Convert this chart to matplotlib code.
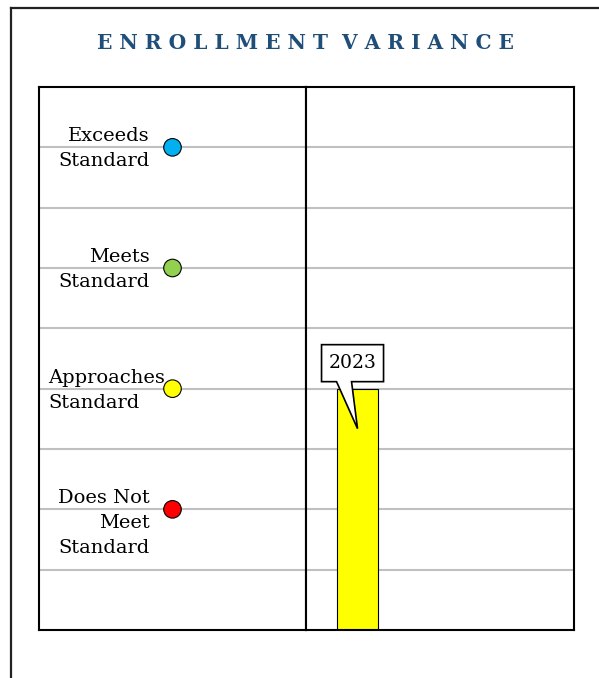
import numpy as np
import matplotlib.pyplot as plt
from matplotlib.patches import Polygon
from matplotlib.lines import Line2D
from matplotlib import transforms

# standards (levels on the y scale) and the single year bar
standards = ['Exceeds\nStandard', 'Meets\nStandard', 'Approaches\nStandard', 'Does Not\nMeet\nStandard']
levels = [8, 6, 4, 2]
dot_colors = ['#00b0f0', '#92d050', '#ffff00', '#ff0000']
years = ['2023']
values = [4]

plt.rcParams['font.family'] = ['DejaVu Serif']

fig = plt.figure(figsize=(5.99, 6.78), dpi=100)
W, H = 599, 678

def rect(x0, y0, x1, y1):
    return [x0 / W, 1 - y1 / H, (x1 - x0) / W, (y1 - y0) / H]

# outer frame (top and left edges only visible)
fig.add_artist(Line2D([10.5 / W, 10.5 / W], [0, 1 - 7.5 / H], color='#222222', lw=1.6))
fig.add_artist(Line2D([10.5 / W, 1], [1 - 7.5 / H, 1 - 7.5 / H], color='#222222', lw=1.6))

fig.text(305 / W, 1 - 43 / H, '  '.join(' '.join(w) for w in 'ENROLLMENT VARIANCE'.split()),
         ha='center', va='center', fontsize=14.5, fontweight='bold', color='#1f4e79')

ax1 = fig.add_axes(rect(39, 87, 306, 630))
ax2 = fig.add_axes(rect(306, 87, 574, 630))

for ax in (ax1, ax2):
    ax.set_ylim(0, 9)
    ax.set_yticks(np.arange(1, 9))
    ax.grid(axis='y', color='#c0c0c0', lw=1.5)
    ax.set_axisbelow(True)
    ax.tick_params(left=False, bottom=False, labelleft=False, labelbottom=False)
    for s in ax.spines.values():
        s.set_linewidth(1.5)
        s.set_color('black')

# left panel: standard markers and labels
ax1.set_xlim(0, 1)
ax1.scatter([0.5] * len(levels), levels, s=160, c=dot_colors, edgecolors='black', linewidths=0.8, zorder=3)
for lab, lv in zip(standards, levels):
    wide = lab.startswith('Approaches')
    ax1.text(0.035 if wide else 0.415, lv + 0.33, lab, ha='left' if wide else 'right', va='top',
             multialignment='left' if wide else 'right', fontsize=14, linespacing=1.5)

# right panel: bar for the year
ax2.set_xlim(-0.5, 2.1)
xs = np.arange(len(years))
ax2.bar(xs, values, width=0.4, color='#ffff00', edgecolor='black', linewidth=0.8, zorder=2)

# callout label anchored at bar top (offsets in pixels)
for x, v, yr in zip(xs, values, years):
    tr = transforms.Affine2D() + transforms.ScaledTranslation(x, v, ax2.transData)
    verts = [(-36, 7), (-21, 7), (0, -40), (-6, 7), (26, 7), (26, 44), (-36, 44)]
    ax2.add_patch(Polygon(verts, closed=True, transform=tr, facecolor='white',
                          edgecolor='black', lw=1.2, zorder=5, clip_on=False))
    ax2.text(-5, 25.5, yr, transform=tr, ha='center', va='center', fontsize=13.5, zorder=6)

fig.savefig('out.png', dpi=100)
